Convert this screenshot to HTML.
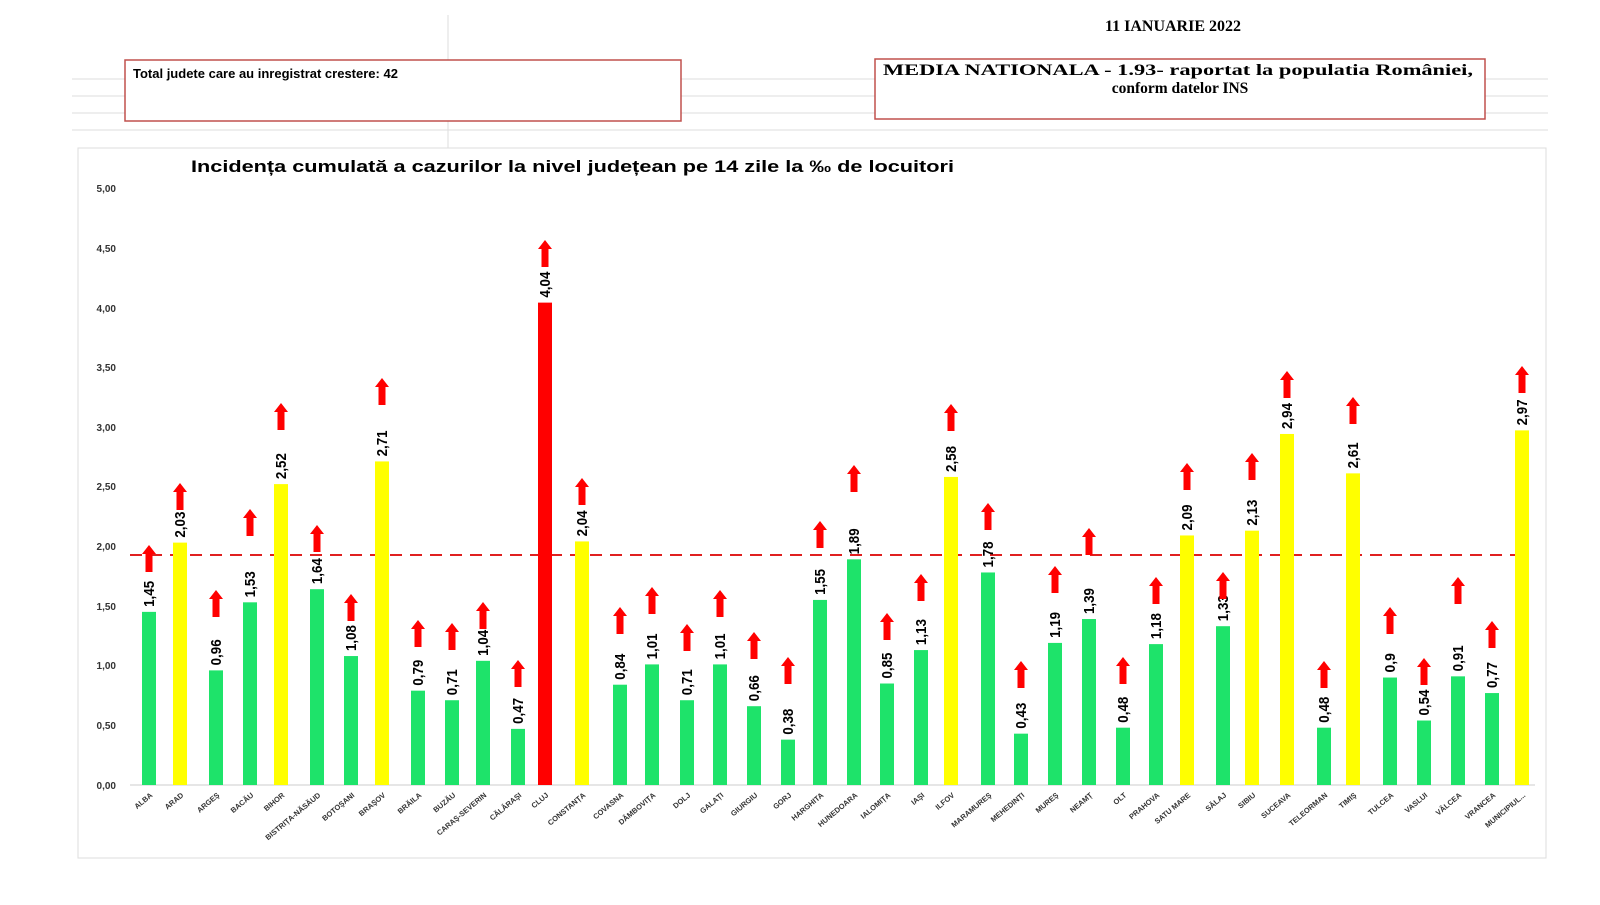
<!DOCTYPE html><html><head><meta charset="utf-8"><style>
body{margin:0;background:#fff;width:1600px;height:900px;overflow:hidden;font-family:"Liberation Sans",sans-serif}
</style></head><body>
<svg width="1600" height="900" xmlns="http://www.w3.org/2000/svg" font-family="Liberation Sans, sans-serif">
<g stroke="#ddd" stroke-width="1">
<line x1="72" y1="79" x2="1548" y2="79"/><line x1="72" y1="96" x2="1548" y2="96"/><line x1="72" y1="113" x2="1548" y2="113"/><line x1="72" y1="130" x2="1548" y2="130"/>
<line x1="448" y1="15" x2="448" y2="148"/>
</g>
<text x="1173" y="31" font-family="Liberation Serif,serif" font-weight="bold" font-size="16" text-anchor="middle">11 IANUARIE 2022</text>
<rect x="125" y="60" width="556" height="61" fill="#fff" stroke="#c0504d" stroke-width="1.5"/>
<text x="133" y="78" font-weight="bold" font-size="13">Total judete care au inregistrat crestere: 42</text>
<rect x="875" y="59" width="610" height="60" fill="#fff" stroke="#c0504d" stroke-width="1.5"/>
<text x="883" y="75" font-family="Liberation Serif,serif" font-weight="bold" font-size="15.5" textLength="590" lengthAdjust="spacingAndGlyphs">MEDIA NATIONALA - 1.93-  raportat la populatia României,</text>
<text x="1180" y="93" font-family="Liberation Serif,serif" font-weight="bold" font-size="15.5" text-anchor="middle">conform datelor INS</text>
<rect x="78" y="148" width="1468" height="710" fill="#fff" stroke="#ddd"/>
<text x="191" y="172" font-weight="bold" font-size="16.5" textLength="763" lengthAdjust="spacingAndGlyphs">Incidența cumulată a cazurilor la nivel județean pe 14 zile la ‰ de locuitori</text>
<g font-size="10" font-weight="bold" text-anchor="end" fill="#333">
<text x="116" y="192">5,00</text><text x="116" y="252">4,50</text><text x="116" y="312">4,00</text><text x="116" y="371">3,50</text><text x="116" y="431">3,00</text><text x="116" y="490">2,50</text><text x="116" y="550">2,00</text><text x="116" y="610">1,50</text><text x="116" y="669">1,00</text><text x="116" y="729">0,50</text><text x="116" y="789">0,00</text>
</g>
<line x1="130" y1="785" x2="1535" y2="785" stroke="#ccc"/>
<line x1="130" y1="555" x2="1528" y2="555" stroke="#e02020" stroke-width="2" stroke-dasharray="12,8"/>
<g id="bars"></g>
</svg>
<script>
var d=[["ALBA",149,1.45,"g",545,"1,45"],["ARAD",180,2.03,"y",483,"2,03"],["ARGEŞ",216,0.96,"g",590,"0,96"],["BACĂU",250,1.53,"g",509,"1,53"],["BIHOR",281,2.52,"y",403,"2,52"],["BISTRIȚA-NĂSĂUD",317,1.64,"g",525,"1,64"],["BOTOŞANI",351,1.08,"g",594,"1,08"],["BRAŞOV",382,2.71,"y",378,"2,71"],["BRĂILA",418,0.79,"g",620,"0,79"],["BUZĂU",452,0.71,"g",623,"0,71"],["CARAŞ-SEVERIN",483,1.04,"g",602,"1,04"],["CĂLĂRAŞI",518,0.47,"g",660,"0,47"],["CLUJ",545,4.04,"r",240,"4,04"],["CONSTANȚA",582,2.04,"y",478,"2,04"],["COVASNA",620,0.84,"g",607,"0,84"],["DÂMBOVIȚA",652,1.01,"g",587,"1,01"],["DOLJ",687,0.71,"g",624,"0,71"],["GALAȚI",720,1.01,"g",590,"1,01"],["GIURGIU",754,0.66,"g",632,"0,66"],["GORJ",788,0.38,"g",657,"0,38"],["HARGHITA",820,1.55,"g",521,"1,55"],["HUNEDOARA",854,1.89,"g",465,"1,89"],["IALOMIȚA",887,0.85,"g",613,"0,85"],["IAŞI",921,1.13,"g",574,"1,13"],["ILFOV",951,2.58,"y",404,"2,58"],["MARAMUREŞ",988,1.78,"g",503,"1,78"],["MEHEDINȚI",1021,0.43,"g",661,"0,43"],["MUREŞ",1055,1.19,"g",566,"1,19"],["NEAMȚ",1089,1.39,"g",528,"1,39"],["OLT",1123,0.48,"g",657,"0,48"],["PRAHOVA",1156,1.18,"g",577,"1,18"],["SATU MARE",1187,2.09,"y",463,"2,09"],["SĂLAJ",1223,1.33,"g",572,"1,33"],["SIBIU",1252,2.13,"y",453,"2,13"],["SUCEAVA",1287,2.94,"y",371,"2,94"],["TELEORMAN",1324,0.48,"g",661,"0,48"],["TIMIŞ",1353,2.61,"y",397,"2,61"],["TULCEA",1390,0.9,"g",607,"0,9"],["VASLUI",1424,0.54,"g",658,"0,54"],["VÂLCEA",1458,0.91,"g",577,"0,91"],["VRANCEA",1492,0.77,"g",621,"0,77"],["MUNICIPIUL...",1522,2.97,"y",366,"2,97"]];
var col={g:"#1ee36a",y:"#ffff00",r:"#ff0000"},s="";
d.forEach(function(b){var h=b[2]*119.4,t=785-h,x=b[1];
s+='<rect x="'+(x-7)+'" y="'+t+'" width="14" height="'+h+'" fill="'+col[b[3]]+'"/>';
s+='<text transform="translate('+(x+5)+','+(t-5)+') rotate(-90)" font-family="Liberation Sans Narrow,Liberation Sans,sans-serif" font-size="15" font-weight="bold" textLength="'+(b[5].length*6.5)+'" lengthAdjust="spacingAndGlyphs">'+b[5]+'</text>';
var a=b[4];
s+='<polygon points="'+x+','+a+' '+(x+7)+','+(a+9)+' '+(x+3.5)+','+(a+9)+' '+(x+3.5)+','+(a+27)+' '+(x-3.5)+','+(a+27)+' '+(x-3.5)+','+(a+9)+' '+(x-7)+','+(a+9)+'" fill="#ff0000"/>';
s+='<text transform="translate('+(x+4)+',796) rotate(-40)" font-size="7.5" font-weight="bold" fill="#333" text-anchor="end">'+b[0]+'</text>';});
document.getElementById("bars").innerHTML=s;
</script>
</body></html>
